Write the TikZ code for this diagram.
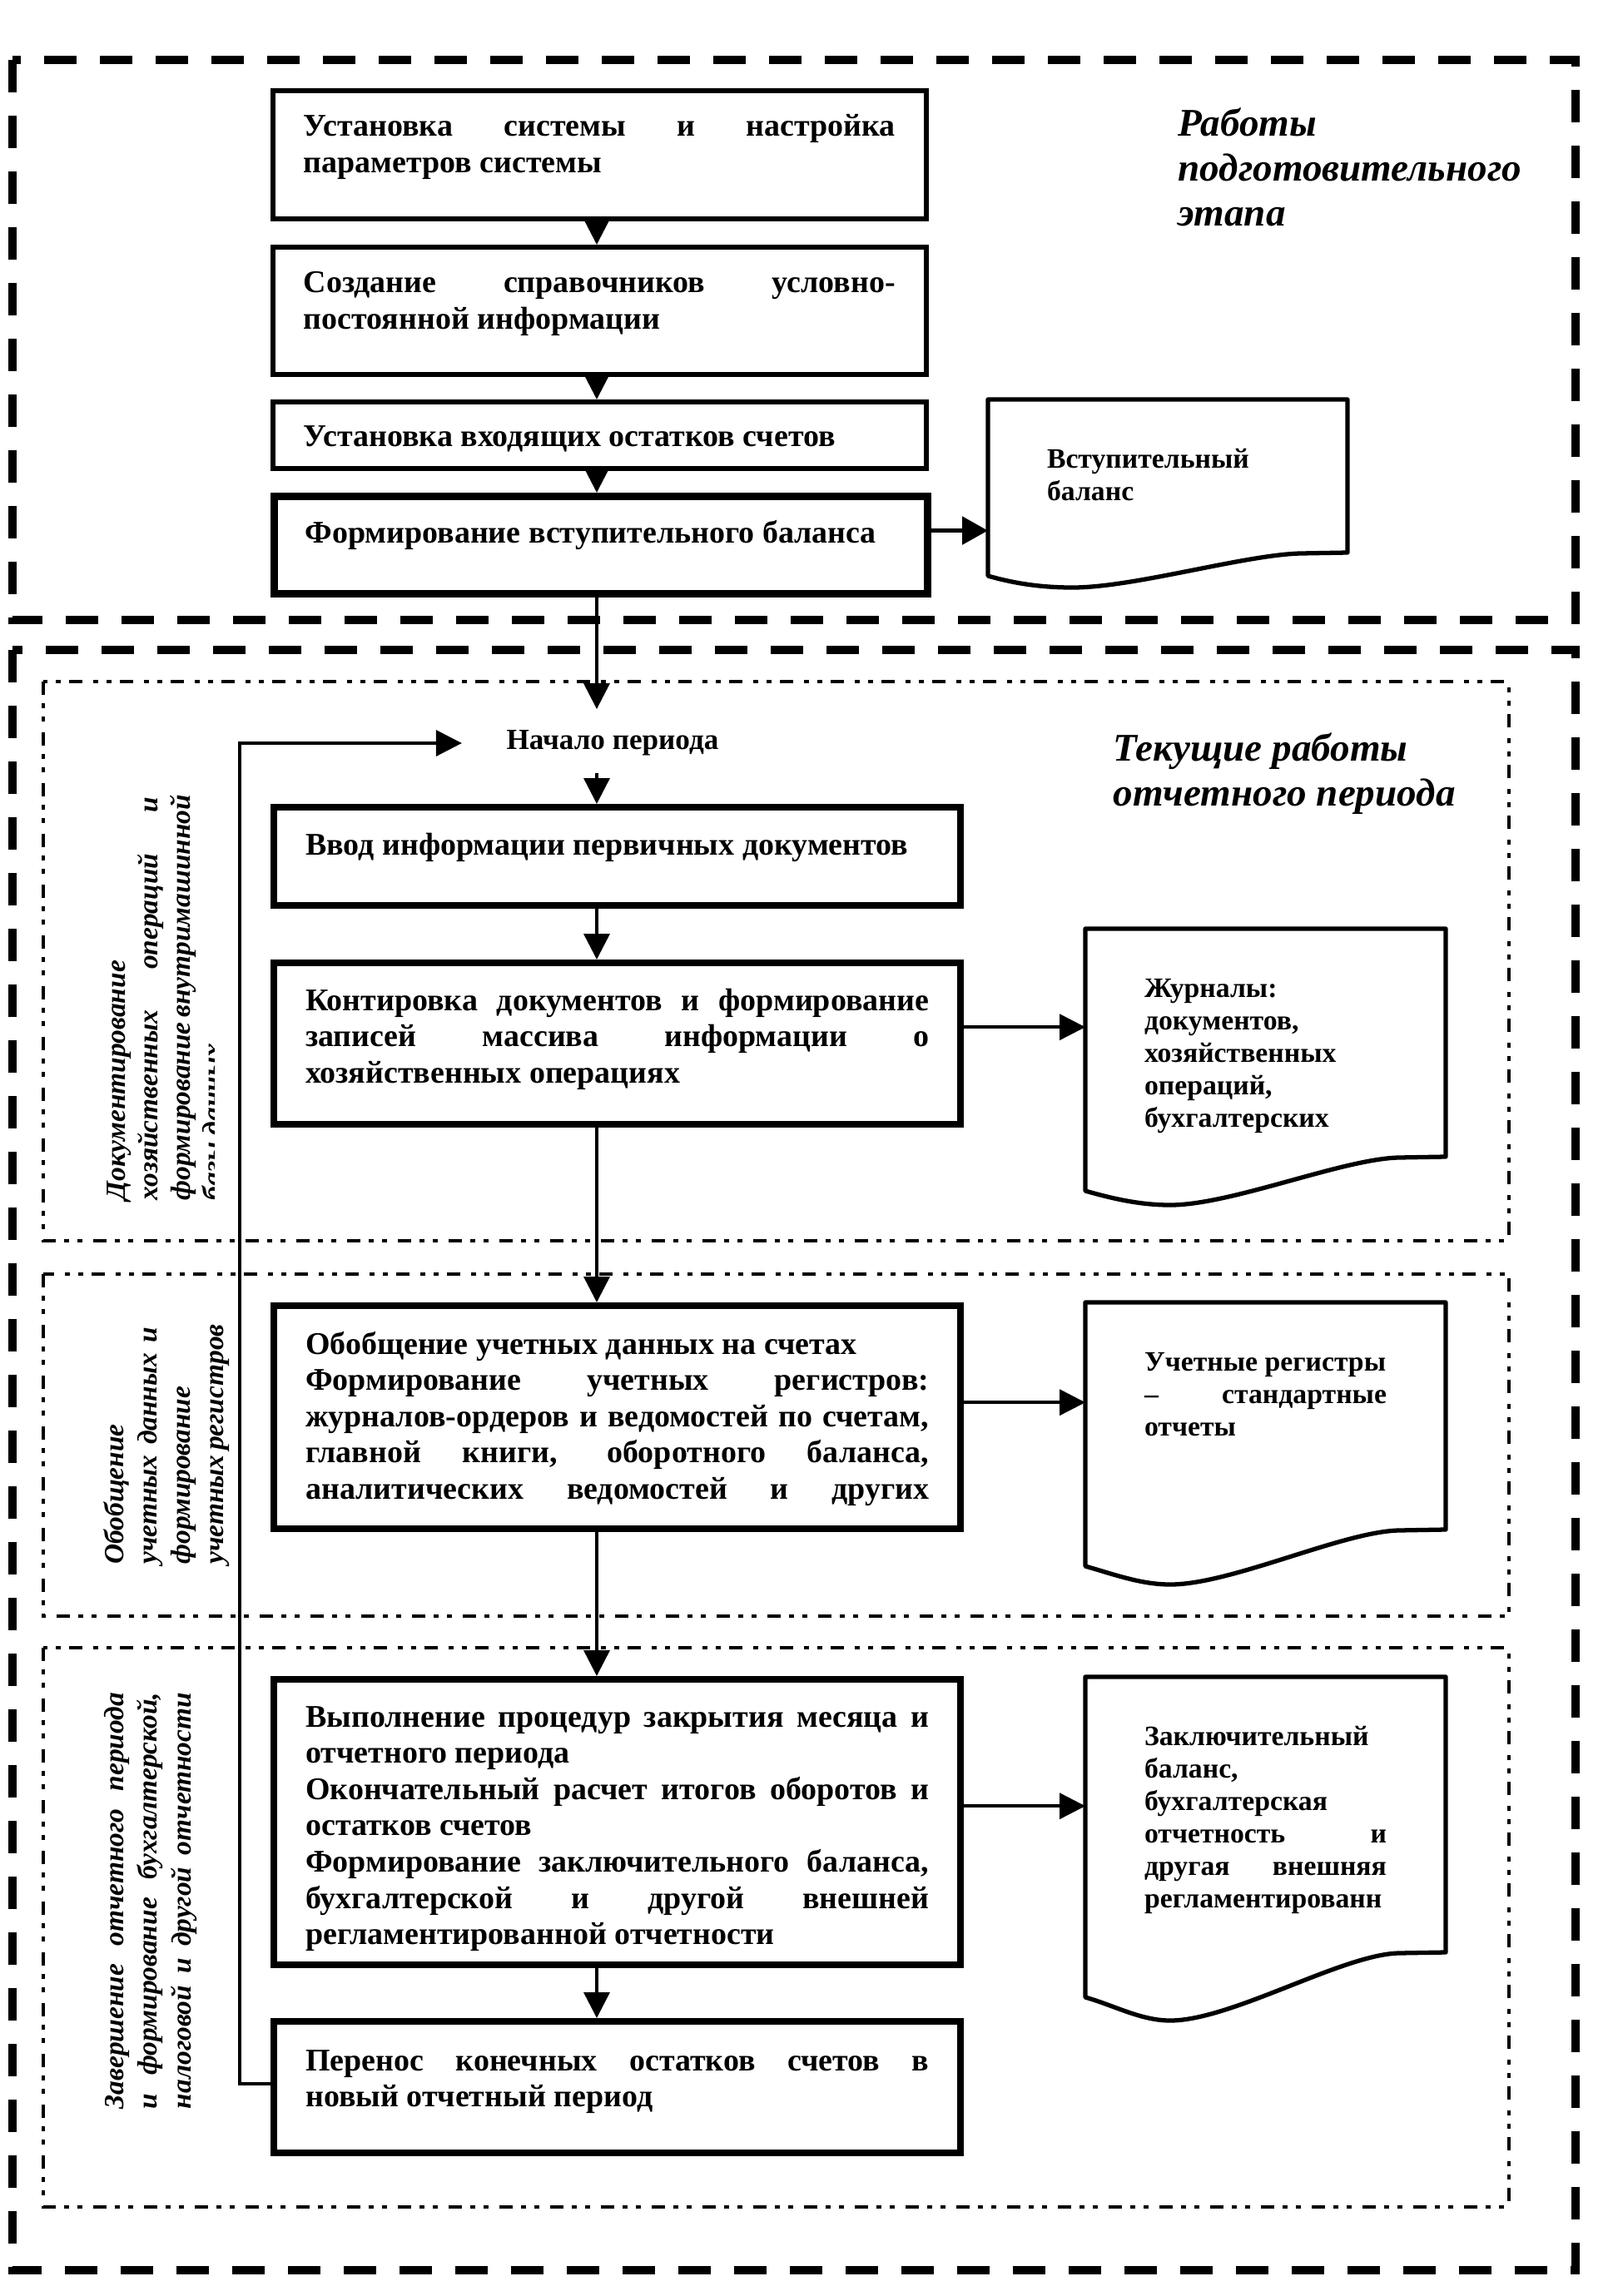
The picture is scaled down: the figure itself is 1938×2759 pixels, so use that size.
\documentclass[tikz,border=0pt]{standalone}
\usepackage{fontspec}
\setmainfont{Liberation Serif}
\usetikzlibrary{arrows.meta,calc}
\newcommand\jl[1]{\makebox[\linewidth][s]{#1}}
\newcommand\btxt[4]{\parbox[c][#1][t]{#2}{\fontsize{10.8pt}{12.4pt}\selectfont\bfseries\rule{0pt}{#3}#4}}
\newcommand\dtxt[3]{\parbox[c][#1][t]{#2}{\fontsize{9.6pt}{11.1pt}\selectfont\bfseries\rule{0pt}{8.2mm}#3}}
\newcommand\docshape[3]{%
  \draw[docline] (#1.north west) -- (#1.north east) -- (#1.south east) -- ++(-57,1)
    .. controls +(-68,2) and +(73,0) .. ($(#1.south west)+(102,#3)$)
    .. controls +(-35,0) and +(35,10) .. ($(#1.south west)+(0,#2)$) -- cycle;}
\tikzset{
  ubox/.style={draw, line width=1.6pt, inner sep=0pt, anchor=north west, minimum width=78.5mm},
  lbox/.style={draw, line width=2.4pt, inner sep=0pt, anchor=north west, minimum width=82.5mm},
  docn/.style={inner sep=0pt, outer sep=0pt, anchor=north west},
  docline/.style={line width=1.5pt, line join=round},
  arr/.style={-{Triangle[length=3.1mm,width=3.1mm]}, line width=1pt},
  thickarr/.style={-{Triangle[length=3.1mm,width=3.3mm]}, line width=1.6pt},
  outerframe/.style={line width=2.8pt, dash pattern=on 3.9mm off 2.8mm},
  innerframe/.style={line width=1.1pt, dash pattern=on 1.6mm off 1mm on 0.6mm off 1mm on 0.6mm off 1.3mm},
  lbl/.style={inner sep=0pt, anchor=base west, font=\fontsize{13.4pt}{15.4pt}\selectfont\bfseries\itshape},
  vlbl/.style={rotate=90, inner sep=0pt, font=\fontsize{9.5pt}{11pt}\selectfont\bfseries\itshape},
  vlblb/.style={rotate=90, inner sep=0pt, font=\fontsize{9.5pt}{11.4pt}\selectfont\bfseries\itshape},
}
\begin{document}
\begin{tikzpicture}[x=0.1mm,y=-0.1mm]
\fill[white] (0,0) rectangle (1938,2759);
\useasboundingbox (0,0) rectangle (1938,2759);

% frames
\draw[outerframe] (15,72) rectangle (1893,745);
\draw[outerframe] (15,781) rectangle (1893,2728);
\draw[innerframe] (52,819) rectangle (1813,1491);
\draw[innerframe] (52,1531) rectangle (1813,1942);
\draw[innerframe] (52,1980) rectangle (1813,2652);

% upper boxes
\node[ubox, minimum height=15.4mm] (b1) at (325,106)
  {\btxt{15.4mm}{71.1mm}{5.5mm}{\jl{Установка системы и настройка}\\параметров системы}};
\node[ubox, minimum height=15.3mm] (b2) at (325,294)
  {\btxt{15.3mm}{71.1mm}{5.5mm}{\jl{Создание справочников условно-}\\постоянной информации}};
\node[ubox, minimum height=8mm] (b3) at (325,480)
  {\btxt{8mm}{71.1mm}{5.4mm}{Установка входящих остатков счетов}};
\node[ubox, line width=2.6pt, minimum height=11.7mm] (b4) at (325,592)
  {\btxt{11.7mm}{71.1mm}{5.6mm}{Формирование вступительного баланса}};

% lower boxes
\node[lbox, minimum height=11.8mm] (b5) at (325,966)
  {\btxt{11.8mm}{74.9mm}{5.7mm}{Ввод информации первичных документов}};
\node[lbox, minimum height=19.4mm] (b6) at (325,1153)
  {\btxt{19.4mm}{74.9mm}{5.7mm}{\jl{Контировка документов и формирование}\\\jl{записей массива информации о}\\хозяйственных операциях}};
\node[lbox, minimum height=26.8mm] (b7) at (325,1565)
  {\btxt{26.8mm}{74.9mm}{5.8mm}{Обобщение учетных данных на счетах\\\jl{Формирование учетных регистров:}\\\jl{журналов-ордеров и ведомостей по счетам,}\\\jl{главной книги, оборотного баланса,}\\\jl{аналитических ведомостей и других}}};
\node[lbox, minimum height=34.3mm] (b8) at (325,2014)
  {\btxt{34.3mm}{74.9mm}{5.7mm}{\jl{Выполнение процедур закрытия месяца и}\\отчетного периода\\\jl{Окончательный расчет итогов оборотов и}\\остатков счетов\\\jl{Формирование заключительного баланса,}\\\jl{бухгалтерской и другой внешней}\\регламентированной отчетности}};
\node[lbox, minimum height=15.8mm] (b9) at (325,2425)
  {\btxt{15.8mm}{74.9mm}{5.9mm}{\jl{Перенос конечных остатков счетов в}\\новый отчетный период}};

% documents
\node[docn, minimum width=43.2mm, minimum height=18.4mm] (d1) at (1187,480)
  {\dtxt{18.4mm}{29mm}{Вступительный\\баланс}};
\docshape{d1}{28}{42}
\node[docn, minimum width=43.3mm, minimum height=27.4mm] (d2) at (1304,1116)
  {\dtxt{27.4mm}{29.1mm}{Журналы:\\документов,\\хозяйственных\\операций,\\бухгалтерских}};
\docshape{d2}{41}{58}
\node[docn, minimum width=43.3mm, minimum height=27.3mm] (d3) at (1304,1565)
  {\dtxt{27.3mm}{29.1mm}{\mbox{Учетные регистры}\\\jl{– стандартные}\\отчеты}};
\docshape{d3}{44}{66}
\node[docn, minimum width=43.3mm, minimum height=33.1mm] (d4) at (1304,2015)
  {\dtxt{33.1mm}{29.1mm}{Заключительный\\баланс,\\бухгалтерская\\\jl{отчетность и}\\\jl{другая внешняя}\\регламентированн}};
\docshape{d4}{54}{82}

% start of period
\node[inner sep=0pt, font=\fontsize{10pt}{12pt}\selectfont\bfseries] (start) at (736,893) {Начало периода};

% section labels
\node[lbl] (lab1) at (1415,163) {\parbox[t]{50mm}{Работы\\подготовительного\\этапа}};
\node[lbl] (lab2) at (1337,914) {\parbox[t]{50mm}{Текущие работы\\отчетного периода}};

\begin{scope}
\clip (0,0) rectangle (257,2759);
\node[vlbl] (va) at (198,1200) {\parbox{48.4mm}{Документирование\\\jl{хозяйственных операций и}\\\jl{формирование внутримашинной}\\базы данных}};
\end{scope}
\node[vlblb] (vb) at (200,1737) {\parbox{28.5mm}{Обобщение\\\jl{учетных данных и}\\формирование\\\jl{учетных регистров}}};
\node[vlblb] (vc) at (181,2284) {\parbox{50mm}{\jl{Завершение отчетного периода}\\\jl{и формирование бухгалтерской,}\\\jl{налоговой и другой отчетности}}};

% connectors
\coordinate (sp) at (717,0);
\coordinate (fb) at (288,2504);
\draw[arr] (b1.south -| sp) -- (b2.north -| sp);
\draw[arr] (b2.south -| sp) -- (b3.north -| sp);
\draw[arr] (b3.south -| sp) -- (b4.north -| sp);
\draw[arr, shorten >=2.5mm] (b4.south -| sp) -- (start.north -| sp);
\draw[arr, shorten <=2mm] (start.south -| sp) -- (b5.north -| sp);
\draw[arr] (b5.south -| sp) -- (b6.north -| sp);
\draw[arr] (b6.south -| sp) -- (b7.north -| sp);
\draw[arr] (b7.south -| sp) -- (b8.north -| sp);
\draw[arr] (b8.south -| sp) -- (b9.north -| sp);

\draw[thickarr] ([yshift=1.75mm]b4.east) -- ([yshift=1.75mm]b4.east -| d1.west);
\draw[arr] ([yshift=2mm]b6.east) -- ([yshift=2mm]b6.east -| d2.west);
\draw[arr] ([yshift=1.8mm]b7.east) -- ([yshift=1.8mm]b7.east -| d3.west);
\draw[arr] ([yshift=1.95mm]b8.east) -- ([yshift=1.95mm]b8.east -| d4.west);

\draw[arr, shorten >=5.3mm] (b9.west |- fb) -- (fb) |- (start.west);
\end{tikzpicture}
\end{document}
